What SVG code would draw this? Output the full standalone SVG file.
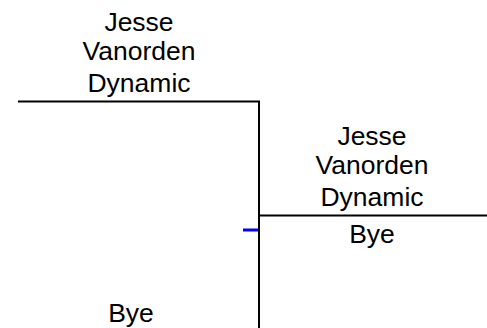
<svg xmlns="http://www.w3.org/2000/svg" width="487" height="328" viewBox="0 0 487 328">
<style>
.t{font-family:"Liberation Sans",Arial,sans-serif;font-size:26.5px;fill:#000;text-anchor:middle}
.l{stroke:#000;stroke-width:2;fill:none}
</style>
<rect width="487" height="328" fill="#fff"/>
<g id="connectors">
<path class="l" d="M18 101.5H259V328"/>
<path class="l" d="M259 215.5H487"/>
<path d="M243 230H258" stroke="#0000ff" stroke-width="3"/>
</g>
<g id="node-r1-top">
<text class="t" x="139" y="31">Jesse</text>
<text class="t" x="139" y="60">Vanorden</text>
<text class="t" x="139" y="92">Dynamic</text>
</g>
<g id="node-r1-bottom">
<text class="t" x="131" y="322">Bye</text>
</g>
<g id="node-r2-top">
<text class="t" x="372" y="145">Jesse</text>
<text class="t" x="372" y="174">Vanorden</text>
<text class="t" x="372" y="206">Dynamic</text>
</g>
<g id="node-r2-bottom">
<text class="t" x="372" y="243">Bye</text>
</g>
</svg>
